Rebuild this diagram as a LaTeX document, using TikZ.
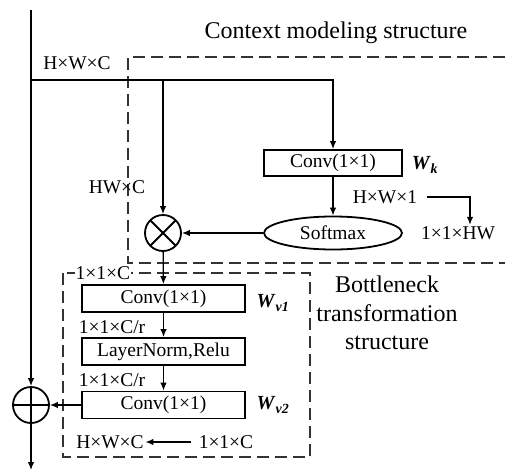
\documentclass[tikz,border=0pt]{standalone}
\usepackage{fontspec}
\setmainfont{Liberation Serif}
\usetikzlibrary{shapes.geometric}
\usetikzlibrary{arrows.meta}
\usetikzlibrary{positioning}

\newcommand{\wgt}[1]{\textbf{\textit{W}}\textsubscript{\textbf{\textit{#1}}}}

\tikzset{
	lbl/.style={font=\fontsize{19.5}{22}\selectfont, inner sep=1pt},
	ttl/.style={font=\fontsize{24}{28.5}\selectfont, align=center},
	wlbl/.style={font=\fontsize{20}{22}\selectfont, inner sep=1pt},
	blk/.style={draw, line width=1.8pt, minimum width=163pt, minimum height=27pt, inner sep=0pt, font=\fontsize{19.5}{22}\selectfont},
	grp/.style={line width=2pt, dash pattern=on 12pt off 6pt, draw=black!80},
	opcirc/.style={circle, draw, line width=1.8pt, minimum size=36pt, inner sep=0pt},
	times/.style={opcirc, path picture={
			\draw[line width=1.8pt] (path picture bounding box.north west) -- (path picture bounding box.south east);
			\draw[line width=1.8pt] (path picture bounding box.south west) -- (path picture bounding box.north east);}},
	plus/.style={opcirc, path picture={
			\draw[line width=1.8pt] (path picture bounding box.north) -- (path picture bounding box.south);
			\draw[line width=1.8pt] (path picture bounding box.west) -- (path picture bounding box.east);}},
}

\begin{document}
\begin{tikzpicture}[x=1pt, y=-1pt, line width=1.3pt, >={Latex[length=8pt,width=6.5pt]}]
	\useasboundingbox (0,0) rectangle (507,472);
	% dashed groups
	\draw[grp] (505,57) -- (128,57) -- (128,263) -- (505,263);
	\draw[grp] (63,273) rectangle (310,457);
	\node[ttl] (ctxtitle) at (336,33) {Context modeling structure};
	\node[ttl] (bntitle) at (387,313) {Bottleneck\\transformation\\structure};

	% context modeling
	\node[blk, minimum width=138pt, minimum height=26pt] (convk) at (333,163) {Conv(1×1)};
	\node[ellipse, draw, line width=1.8pt, minimum width=138pt, minimum height=33pt, inner sep=0pt, lbl] (softmax) at (333,233) {Softmax};
	\node[times] (mul) at (163,233) {};
	\node[wlbl] (wk) at (425,165) {\wgt{k}};
	\node[lbl] (hw1) at (385,197) {H×W×1};
	\node[lbl] (onehw) at (458,233) {1×1×HW};
	\node[lbl] (hwc) at (77,63) {H×W×C};
	\node[lbl] (hwxc) at (117,187) {HW×C};

	% bottleneck transform
	\node[lbl, fill=white] (c1) at (103,273) {1×1×C};
	\node[blk] (conv1) at (163.5,298.5) {Conv(1×1)};
	\node[blk] (lnorm) at (163.5,351.5) {LayerNorm,Relu};
	\node[blk] (conv2) at (163.5,405) {Conv(1×1)};
	\node[wlbl] (wv1) at (273,303) {\wgt{v1}};
	\node[wlbl] (wv2) at (273,405) {\wgt{v2}};
	\node[lbl] (cr1) at (112,327) {1×1×C/r};
	\node[lbl] (cr2) at (112,380) {1×1×C/r};
	\node[lbl] (hwc2) at (110,442) {H×W×C};
	\node[lbl] (c2) at (226,442) {1×1×C};
	\node[plus] (add) at (31,405) {};

	% connectors
	\coordinate (in) at (31,10);
	\coordinate (split) at (31,80);
	\coordinate (out) at (31,470);
	\draw[->] (in) -- (add);
	\draw[->] (add) -- (out);
	\draw[->] (split) -| (convk);
	\draw[->] (split -| mul) -- (mul);
	\draw[->] (convk) -- (softmax);
	\draw[->] (softmax) -- (mul);
	\draw[->] ([xshift=8pt]hw1.east) -| ([xshift=12pt]onehw.north);
	\draw[->] (mul) -- (conv1);
	\draw[->] (conv1) -- (lnorm);
	\draw[->] (lnorm) -- (conv2);
	\draw[->] (conv2) -- (add);
	\draw[->] ([xshift=-6pt]c2.west) -- (hwc2.east);
\end{tikzpicture}
\end{document}
